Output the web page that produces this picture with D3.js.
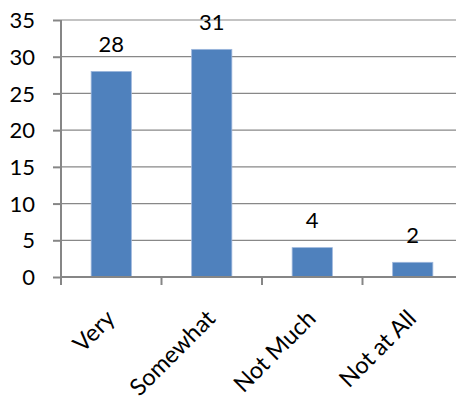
<!DOCTYPE html>
<html>
<head>
<meta charset="utf-8">
<script src="https://cdn.jsdelivr.net/npm/d3@7"></script>
<style>
  body { margin: 0; background: #fff; }
  svg text { font-family: Lato, "Noto Sans", sans-serif; fill: #000; }
</style>
</head>
<body>
<script>
(function(){

	var categories = ["Very", "Somewhat", "Not Much", "Not at All"];
	var values = [28, 31, 4, 2];
	var yTicks = [0, 5, 10, 15, 20, 25, 30, 35];

	const W = 456;
	const H = 400;
	const LEFT = 61;
	const RIGHT = 463;
	const TOP = 20;
	const BOTTOM = 277;
	const FONT = 22;
	const XFONT = 23.5;

	var x = d3.scaleBand().domain(categories).range([LEFT, RIGHT]).paddingInner(0.6).paddingOuter(0.3);
	var y = d3.scaleLinear().domain([0, 35]).range([BOTTOM, TOP]);

	var svg = d3.select("body").append("svg")
		.attr("width", W).attr("height", H);

	// gridlines
	svg.append("g").selectAll("line").data(yTicks.filter(function(d){ return d > 0; })).enter().append("line")
		.attr("x1", LEFT).attr("x2", W)
		.attr("y1", function(d){ return y(d); }).attr("y2", function(d){ return y(d); })
		.attr("stroke", "#888").attr("stroke-width", 1.2);

	// bars
	svg.append("g").selectAll("rect").data(values).enter().append("rect")
		.attr("x", function(d,i){ return x(categories[i]); })
		.attr("y", function(d){ return y(d); })
		.attr("width", x.bandwidth())
		.attr("height", function(d){ return BOTTOM - y(d); })
		.attr("fill", "#4f81bd")
		.attr("stroke", "#9db7dc").attr("stroke-width", 0.8);

	// value labels
	svg.append("g").selectAll("text").data(values).enter().append("text")
		.attr("x", function(d,i){ return x(categories[i]) + x.bandwidth()/2; })
		.attr("y", function(d){ return y(d) - 19.5; })
		.attr("text-anchor", "middle")
		.style("font-size", FONT + "px")
		.text(function(d){ return d; });

	// y axis
	var yAxis = d3.axisLeft(y).tickValues(yTicks).tickSize(8).tickPadding(18);
	var gy = svg.append("g").attr("transform", "translate(" + LEFT + ",0)").call(yAxis);
	gy.select(".domain").remove();
	gy.append("line").attr("x1", 0).attr("x2", 0).attr("y1", TOP).attr("y2", BOTTOM + 8)
		.attr("stroke", "#868686").attr("stroke-width", 2);
	gy.selectAll(".tick line").attr("stroke", "#868686").attr("stroke-width", 2);
	gy.selectAll(".tick text").style("font-size", FONT + "px").style("font-family", "Lato, 'Noto Sans', sans-serif").attr("dy", "0.35em");

	// x axis
	var step = x.step();
	var gx = svg.append("g").attr("transform", "translate(0," + BOTTOM + ")");
	gx.append("line").attr("x1", LEFT).attr("x2", W).attr("y1", 0).attr("y2", 0)
		.attr("stroke", "#868686").attr("stroke-width", 2);
	gx.selectAll("line.tk").data(categories).enter().append("line").attr("class", "tk")
		.attr("x1", function(d){ return x(d) + x.bandwidth()/2 - step/2; })
		.attr("x2", function(d){ return x(d) + x.bandwidth()/2 - step/2; })
		.attr("y1", 0).attr("y2", 8)
		.attr("stroke", "#868686").attr("stroke-width", 2);
	gx.selectAll("text").data(categories).enter().append("text")
		.attr("text-anchor", "end")
		.attr("transform", function(d){ return "translate(" + (x(d) + x.bandwidth()/2 + 5) + ",43) rotate(-45)"; })
		.style("font-size", XFONT + "px")
		.text(function(d){ return d; });

})();
</script>
</body>
</html>
